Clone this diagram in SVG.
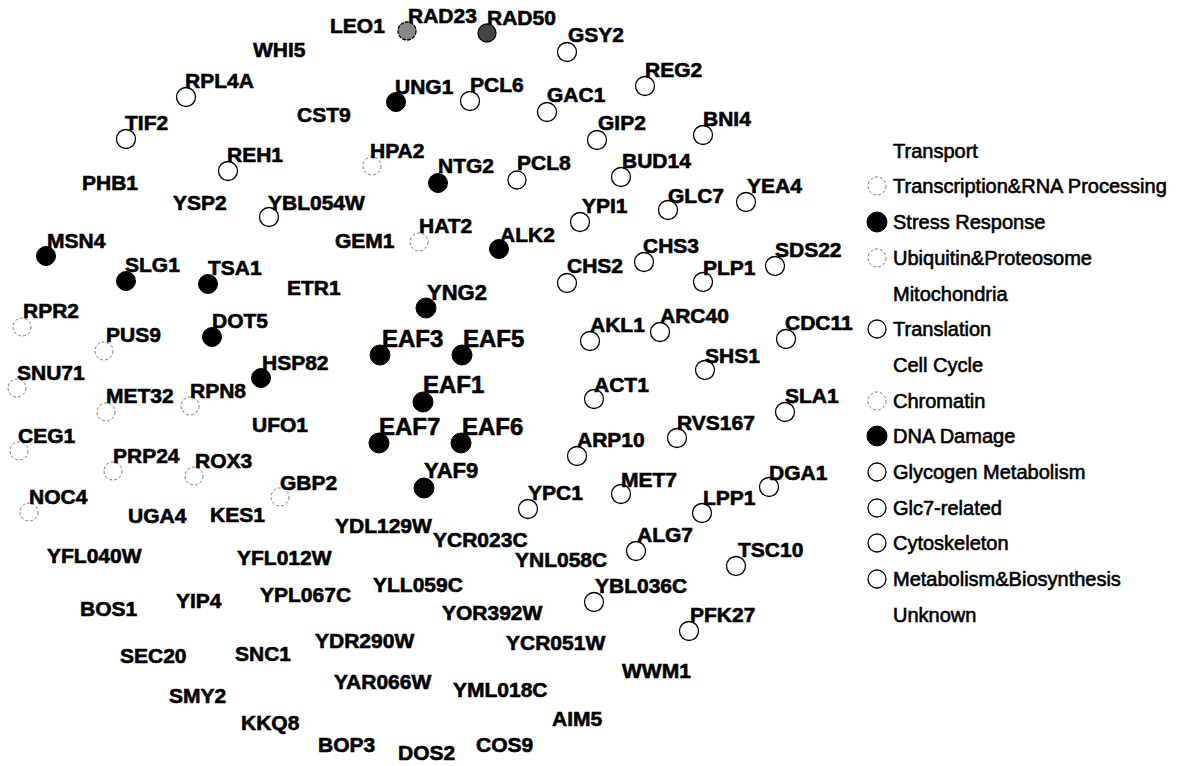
<svg xmlns="http://www.w3.org/2000/svg" width="1185" height="766" viewBox="0 0 1185 766">
<style>
.l{font-family:"Liberation Sans",Arial,sans-serif;font-weight:bold;font-size:21px;fill:#000;stroke:#000;stroke-width:0.6}
.b{font-size:24px}
.m{font-size:22px}
.o{fill:#fff;stroke:#000;stroke-width:1.3}
.f{fill:none;stroke:#777;stroke-width:1;stroke-dasharray:3 2}
.s{fill:#000;stroke:#000;stroke-width:1}
.h{fill:#888;stroke:#000;stroke-width:1.3;stroke-dasharray:4 1}
.h2{fill:#444;stroke:#000;stroke-width:1.3}
.g{font-family:"Liberation Sans",Arial,sans-serif;font-size:20px;fill:#000;stroke:#000;stroke-width:0.6}
</style>
<rect width="1185" height="766" fill="#fff"/>
<g id="connectors"/>
<g id="nodes">
<g id="LEO1"><text class="l" x="330" y="33">LEO1</text></g>
<g id="RAD23"><circle class="h" cx="407" cy="31" r="9"/><text class="l" x="408" y="23">RAD23</text></g>
<g id="RAD50"><circle class="h2" cx="487" cy="33" r="9"/><text class="l" x="487" y="25">RAD50</text></g>
<g id="WHI5"><text class="l" x="253" y="57">WHI5</text></g>
<g id="GSY2"><circle class="o" cx="567" cy="52" r="9.5"/><text class="l" x="568" y="42">GSY2</text></g>
<g id="RPL4A"><circle class="o" cx="186" cy="97" r="9.5"/><text class="l" x="185" y="88">RPL4A</text></g>
<g id="UNG1"><circle class="s" cx="396" cy="102" r="9.5"/><text class="l" x="395" y="94">UNG1</text></g>
<g id="PCL6"><circle class="o" cx="470" cy="101" r="9.5"/><text class="l" x="470" y="92">PCL6</text></g>
<g id="GAC1"><circle class="o" cx="547" cy="112" r="9.5"/><text class="l" x="547" y="102">GAC1</text></g>
<g id="REG2"><circle class="o" cx="645" cy="86" r="9.5"/><text class="l" x="645" y="77">REG2</text></g>
<g id="TIF2"><circle class="o" cx="126" cy="139" r="9.5"/><text class="l" x="125" y="130">TIF2</text></g>
<g id="CST9"><text class="l" x="297" y="122">CST9</text></g>
<g id="GIP2"><circle class="o" cx="597" cy="140" r="9.5"/><text class="l" x="598" y="130">GIP2</text></g>
<g id="BNI4"><circle class="o" cx="703" cy="135" r="9.5"/><text class="l" x="703" y="126">BNI4</text></g>
<g id="REH1"><circle class="o" cx="228" cy="171" r="9.5"/><text class="l" x="227" y="162">REH1</text></g>
<g id="HPA2"><circle class="f" cx="372" cy="166" r="9"/><text class="l" x="370" y="158">HPA2</text></g>
<g id="NTG2"><circle class="s" cx="438" cy="183" r="9.5"/><text class="l" x="438" y="173">NTG2</text></g>
<g id="PCL8"><circle class="o" cx="517" cy="180" r="9"/><text class="l" x="517" y="170">PCL8</text></g>
<g id="BUD14"><circle class="o" cx="621" cy="177" r="9.5"/><text class="l" x="622" y="168">BUD14</text></g>
<g id="PHB1"><text class="l" x="82" y="190">PHB1</text></g>
<g id="YSP2"><text class="l" x="173" y="210">YSP2</text></g>
<g id="YBL054W"><circle class="o" cx="269" cy="217" r="9.5"/><text class="l" x="268" y="210">YBL054W</text></g>
<g id="YEA4"><circle class="o" cx="746" cy="202" r="9.5"/><text class="l" x="747" y="193">YEA4</text></g>
<g id="GLC7"><circle class="o" cx="668" cy="210" r="9.5"/><text class="l" x="668" y="203">GLC7</text></g>
<g id="YPI1"><circle class="o" cx="580" cy="222" r="9.5"/><text class="l" x="582" y="213">YPI1</text></g>
<g id="GEM1"><text class="l" x="335" y="248">GEM1</text></g>
<g id="HAT2"><circle class="f" cx="419" cy="242" r="9"/><text class="l" x="419" y="233">HAT2</text></g>
<g id="ALK2"><circle class="s" cx="499" cy="249" r="9.5"/><text class="l" x="500" y="242">ALK2</text></g>
<g id="MSN4"><circle class="s" cx="46" cy="256" r="9.5"/><text class="l" x="47" y="248">MSN4</text></g>
<g id="CHS3"><circle class="o" cx="644" cy="262" r="9.5"/><text class="l" x="643" y="253">CHS3</text></g>
<g id="SDS22"><circle class="o" cx="775" cy="266" r="9.5"/><text class="l" x="775" y="257">SDS22</text></g>
<g id="SLG1"><circle class="s" cx="126" cy="281" r="9.5"/><text class="l" x="125" y="272">SLG1</text></g>
<g id="TSA1"><circle class="s" cx="208" cy="284" r="9.5"/><text class="l" x="208" y="275">TSA1</text></g>
<g id="CHS2"><circle class="o" cx="567" cy="283" r="9.5"/><text class="l" x="567" y="273">CHS2</text></g>
<g id="PLP1"><circle class="o" cx="703" cy="282" r="9.5"/><text class="l" x="703" y="275">PLP1</text></g>
<g id="ETR1"><text class="l" x="287" y="295">ETR1</text></g>
<g id="YNG2"><circle class="s" cx="426" cy="308" r="10"/><text class="l m" x="427" y="300">YNG2</text></g>
<g id="RPR2"><circle class="f" cx="22" cy="327" r="9"/><text class="l" x="23" y="318">RPR2</text></g>
<g id="DOT5"><circle class="s" cx="212" cy="337" r="9.5"/><text class="l" x="212" y="328">DOT5</text></g>
<g id="AKL1"><circle class="o" cx="590" cy="341" r="9.5"/><text class="l" x="590" y="332">AKL1</text></g>
<g id="ARC40"><circle class="o" cx="660" cy="332" r="9.5"/><text class="l" x="660" y="323">ARC40</text></g>
<g id="CDC11"><circle class="o" cx="786" cy="339" r="9.5"/><text class="l" x="785" y="330">CDC11</text></g>
<g id="PUS9"><circle class="f" cx="104" cy="351" r="9"/><text class="l" x="106" y="342">PUS9</text></g>
<g id="EAF3"><circle class="s" cx="380" cy="355" r="10"/><text class="l b" x="382" y="347">EAF3</text></g>
<g id="EAF5"><circle class="s" cx="462" cy="355" r="10"/><text class="l b" x="463" y="347">EAF5</text></g>
<g id="SHS1"><circle class="o" cx="705" cy="370" r="9.5"/><text class="l" x="705" y="363">SHS1</text></g>
<g id="HSP82"><circle class="s" cx="261" cy="378" r="9.5"/><text class="l" x="262" y="370">HSP82</text></g>
<g id="SNU71"><circle class="f" cx="17" cy="388" r="9"/><text class="l" x="17" y="380">SNU71</text></g>
<g id="EAF1"><circle class="s" cx="423" cy="402" r="10"/><text class="l b" x="423" y="393">EAF1</text></g>
<g id="ACT1"><circle class="o" cx="594" cy="399" r="9.5"/><text class="l" x="594" y="392">ACT1</text></g>
<g id="RPN8"><circle class="f" cx="190" cy="406" r="9"/><text class="l" x="190" y="398">RPN8</text></g>
<g id="MET32"><circle class="f" cx="106" cy="412" r="9"/><text class="l" x="106" y="403">MET32</text></g>
<g id="SLA1"><circle class="o" cx="785" cy="412" r="9.5"/><text class="l" x="785" y="403">SLA1</text></g>
<g id="UFO1"><text class="l" x="252" y="432">UFO1</text></g>
<g id="EAF7"><circle class="s" cx="379" cy="443" r="10"/><text class="l b" x="379" y="435">EAF7</text></g>
<g id="EAF6"><circle class="s" cx="461" cy="443" r="10"/><text class="l b" x="462" y="435">EAF6</text></g>
<g id="RVS167"><circle class="o" cx="677" cy="438" r="9.5"/><text class="l" x="677" y="430">RVS167</text></g>
<g id="CEG1"><circle class="f" cx="19" cy="451" r="9"/><text class="l" x="18" y="443">CEG1</text></g>
<g id="ARP10"><circle class="o" cx="577" cy="456" r="9.5"/><text class="l" x="577" y="447">ARP10</text></g>
<g id="PRP24"><circle class="f" cx="113" cy="471" r="9"/><text class="l" x="113" y="463">PRP24</text></g>
<g id="ROX3"><circle class="f" cx="194" cy="476" r="9"/><text class="l" x="195" y="468">ROX3</text></g>
<g id="YAF9"><circle class="s" cx="424" cy="488" r="10"/><text class="l m" x="424" y="478">YAF9</text></g>
<g id="DGA1"><circle class="o" cx="769" cy="487" r="9.5"/><text class="l" x="769" y="480">DGA1</text></g>
<g id="MET7"><circle class="o" cx="621" cy="494" r="9.5"/><text class="l" x="621" y="487">MET7</text></g>
<g id="GBP2"><circle class="f" cx="280" cy="497" r="9"/><text class="l" x="280" y="490">GBP2</text></g>
<g id="YPC1"><circle class="o" cx="528" cy="509" r="9.5"/><text class="l" x="528" y="500">YPC1</text></g>
<g id="NOC4"><circle class="f" cx="29" cy="512" r="9"/><text class="l" x="29" y="504">NOC4</text></g>
<g id="LPP1"><circle class="o" cx="702" cy="513" r="9.5"/><text class="l" x="703" y="505">LPP1</text></g>
<g id="UGA4"><text class="l" x="128" y="523">UGA4</text></g>
<g id="KES1"><text class="l" x="210" y="522">KES1</text></g>
<g id="YDL129W"><text class="l" x="335" y="533">YDL129W</text></g>
<g id="ALG7"><circle class="o" cx="636" cy="551" r="9.5"/><text class="l" x="637" y="542">ALG7</text></g>
<g id="YCR023C"><text class="l" x="433" y="547">YCR023C</text></g>
<g id="TSC10"><circle class="o" cx="736" cy="566" r="9.5"/><text class="l" x="738" y="557">TSC10</text></g>
<g id="YFL040W"><text class="l" x="47" y="563">YFL040W</text></g>
<g id="YFL012W"><text class="l" x="237" y="565">YFL012W</text></g>
<g id="YNL058C"><text class="l" x="515" y="567">YNL058C</text></g>
<g id="YLL059C"><text class="l" x="373" y="592">YLL059C</text></g>
<g id="YBL036C"><circle class="o" cx="594" cy="602" r="9.5"/><text class="l" x="595" y="593">YBL036C</text></g>
<g id="YPL067C"><text class="l" x="260" y="602">YPL067C</text></g>
<g id="YIP4"><text class="l" x="176" y="608">YIP4</text></g>
<g id="BOS1"><text class="l" x="80" y="616">BOS1</text></g>
<g id="YOR392W"><text class="l" x="442" y="620">YOR392W</text></g>
<g id="PFK27"><circle class="o" cx="689" cy="631" r="9.5"/><text class="l" x="690" y="622">PFK27</text></g>
<g id="YDR290W"><text class="l" x="315" y="648">YDR290W</text></g>
<g id="YCR051W"><text class="l" x="506" y="650">YCR051W</text></g>
<g id="SNC1"><text class="l" x="235" y="661">SNC1</text></g>
<g id="SEC20"><text class="l" x="120" y="663">SEC20</text></g>
<g id="WWM1"><text class="l" x="622" y="678">WWM1</text></g>
<g id="YAR066W"><text class="l" x="334" y="689">YAR066W</text></g>
<g id="YML018C"><text class="l" x="453" y="697">YML018C</text></g>
<g id="SMY2"><text class="l" x="169" y="703">SMY2</text></g>
<g id="AIM5"><text class="l" x="552" y="726">AIM5</text></g>
<g id="KKQ8"><text class="l" x="241" y="730">KKQ8</text></g>
<g id="BOP3"><text class="l" x="318" y="752">BOP3</text></g>
<g id="COS9"><text class="l" x="476" y="752">COS9</text></g>
<g id="DOS2"><text class="l" x="398" y="760">DOS2</text></g>
</g>
<g id="legend">
<text class="g" x="893" y="158">Transport</text>
<circle class="f" cx="877" cy="186" r="9"/><text class="g" x="893" y="193">Transcription&amp;RNA Processing</text>
<circle class="s" cx="877" cy="222" r="10"/><text class="g" x="893" y="229">Stress Response</text>
<circle class="f" cx="877" cy="258" r="9"/><text class="g" x="893" y="265">Ubiquitin&amp;Proteosome</text>
<text class="g" x="893" y="301">Mitochondria</text>
<circle class="o" cx="877" cy="329" r="9"/><text class="g" x="893" y="336">Translation</text>
<text class="g" x="893" y="372">Cell Cycle</text>
<circle class="f" cx="877" cy="401" r="9"/><text class="g" x="893" y="408">Chromatin</text>
<circle class="s" cx="877" cy="436" r="10"/><text class="g" x="893" y="443">DNA Damage</text>
<circle class="o" cx="877" cy="472" r="9"/><text class="g" x="893" y="479">Glycogen Metabolism</text>
<circle class="o" cx="877" cy="508" r="9"/><text class="g" x="893" y="515">Glc7-related</text>
<circle class="o" cx="877" cy="543" r="9"/><text class="g" x="893" y="550">Cytoskeleton</text>
<circle class="o" cx="877" cy="579" r="9"/><text class="g" x="893" y="586">Metabolism&amp;Biosynthesis</text>
<text class="g" x="893" y="622">Unknown</text>
</g>
</svg>
